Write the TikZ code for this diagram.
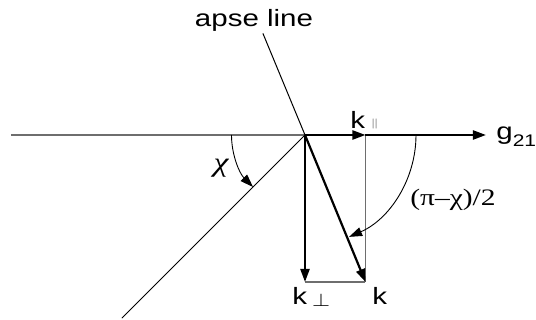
\documentclass[tikz,border=0pt]{standalone}
\usepackage{fontspec}
\setmainfont{Liberation Sans}
\newfontfamily\greekfont{Liberation Serif}
\usetikzlibrary{arrows.meta,calc,positioning}
\definecolor{Ink}{HTML}{000000}
\definecolor{Rule}{HTML}{6E6E6E}
\newcommand{\widetext}[1]{\scalebox{1.25}[1]{#1}}
\tikzset{
  vecline/.style={Ink,line width=1.1pt,-{Triangle[length=6.5pt,width=4.5pt]}},
  thinline/.style={Ink,line width=0.5pt},
  guideline/.style={Rule,line width=0.6pt},
  anglearc/.style={Ink,line width=0.45pt,-{Triangle[length=6.5pt,width=4.5pt]}},
  lbl/.style={inner sep=0pt}
}
\begin{document}
\begin{tikzpicture}[x=0.5pt,y=0.5pt,font=\fontsize{11.8}{14}\selectfont]
\useasboundingbox (-305,-185) rectangle (231,135);
% Construction points.
\coordinate (origin) at (0,0);
\coordinate (leftend) at (-294,0);
\coordinate (gtip) at (181,0);
\coordinate (kpar) at (60.5,0);
\coordinate (kperp) at (0,-147);
\coordinate (kvec) at (60.5,-147);
\coordinate (apsetop) at (112.5:110);
\coordinate (chiend) at (225:259);

% Reference lines.
\draw[guideline] (leftend)--(origin);
\draw[thinline] (apsetop)--(origin);
\draw[thinline] (origin)--(chiend);
\draw[guideline] (kpar)--(kvec);
\draw[guideline] (kperp)--(kvec);

% Angles.
\draw[anglearc] (180:73.5) arc[start angle=180,end angle=225,radius=73.5];
\draw[anglearc] (0:111) arc[start angle=0,end angle=-66.6,radius=111];

% Vectors.
\draw[vecline] (origin)--(kpar);
\draw[vecline] (kpar)--(gtip);
\draw[vecline] (origin)--(kperp);
\draw[vecline] (origin)--(kvec);

% Labels.
\node[lbl,anchor=base] (apselabel) at (-51,108) {\widetext{apse line}};
\node[lbl] (chilabel) at (-84,-33)
  {\widetext{\greekfont\itshape\fontsize{13.5}{14}\selectfont χ}};
\node[lbl] (halflabel) at (148,-65) {\widetext{\greekfont (π–χ)/2}};
\node[lbl,anchor=base west] (kparlabel) at (45,6)
  {\widetext{k\,\raisebox{1.3pt}{\color{Rule}\fontsize{5.5}{6}\selectfont$\parallel$}}};
\node[lbl,anchor=base west] (glabel) at (191,-5)
  {\widetext{g\raisebox{-3.5pt}{\fontsize{8.4}{9}\selectfont 21}}};
\node[lbl,anchor=base west] (kperplabel) at (-13,-170)
  {\widetext{k\,\raisebox{-0.8pt}{\fontsize{9}{9}\selectfont$\perp$}}};
\node[lbl,anchor=base west] (klabel) at (67,-170) {\widetext{k}};
\end{tikzpicture}
\end{document}
